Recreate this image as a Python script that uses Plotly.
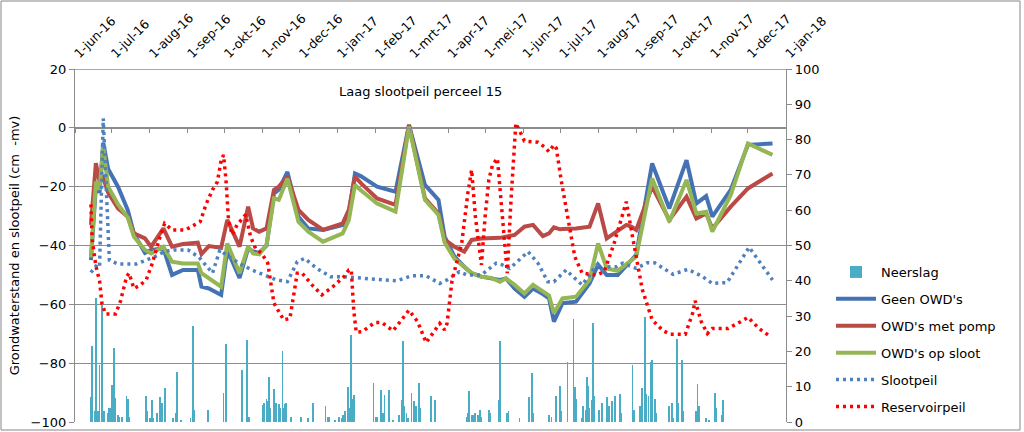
import plotly.graph_objects as go

# ---------------- data ----------------
month_ticks = ["2016-06-01", "2016-07-01", "2016-08-01", "2016-09-01", "2016-10-01", "2016-11-01",
               "2016-12-01", "2017-01-01", "2017-02-01", "2017-03-01", "2017-04-01", "2017-05-01",
               "2017-06-01", "2017-07-01", "2017-08-01", "2017-09-01", "2017-10-01", "2017-11-01",
               "2017-12-01", "2018-01-01"]
month_labels = ["1-jun-16", "1-jul-16", "1-aug-16", "1-sep-16", "1-okt-16", "1-nov-16", "1-dec-16",
                "1-jan-17", "1-feb-17", "1-mrt-17", "1-apr-17", "1-mei-17", "1-jun-17", "1-jul-17",
                "1-aug-17", "1-sep-17", "1-okt-17", "1-nov-17", "1-dec-17", "1-jan-18"]

meet_dates = ["2016-06-14", "2016-06-18", "2016-06-21", "2016-06-24", "2016-06-28", "2016-07-06",
              "2016-07-14", "2016-07-19", "2016-07-28", "2016-08-02", "2016-08-12", "2016-08-19",
              "2016-08-28", "2016-09-09", "2016-09-12", "2016-09-18", "2016-09-28", "2016-10-03",
              "2016-10-13", "2016-10-20", "2016-10-24", "2016-10-29", "2016-11-04", "2016-11-10",
              "2016-11-14", "2016-11-21", "2016-11-30", "2016-12-08", "2016-12-20", "2017-01-05",
              "2017-01-10", "2017-01-15", "2017-01-20", "2017-02-02", "2017-02-17", "2017-02-28",
              "2017-03-13", "2017-03-24", "2017-03-29", "2017-04-06", "2017-04-14", "2017-04-20",
              "2017-04-28", "2017-05-06", "2017-05-13", "2017-05-18", "2017-05-25", "2017-06-02",
              "2017-06-09", "2017-06-17", "2017-06-22", "2017-06-26", "2017-07-01", "2017-07-03",
              "2017-07-14", "2017-07-25", "2017-08-01", "2017-08-08", "2017-08-17", "2017-08-24",
              "2017-08-28", "2017-09-01", "2017-09-14", "2017-09-28", "2017-10-12", "2017-10-20",
              "2017-10-28", "2017-11-02", "2017-11-17", "2017-12-01", "2017-12-21"]

geen_owd = [-45, -20, -22, -5, -14, -20, -28, -36, -42.5, -41.5, -41, -50, -48.3, -48.3, -54, -54.6,
            -56.8, -41.5, -51, -41, -42, -42.5, -40, -22.3, -21, -15, -30.2, -34.2, -34.7, -33, -29,
            -15.5, -16.5, -20, -21.7, 1, -19.4, -24.5, -37, -43.8, -47.2, -49.4, -50.6, -51.2, -51.7,
            -51.2, -54.6, -57.4, -54.6, -56.5, -58, -65.9, -61, -59.6, -59.1, -52.9, -46.5, -50, -50,
            -47, -45, -43.2, -12.1, -27.4, -11, -25.7, -23.2, -30.2, -21.1, -5.8, -5.3]

owd_pomp = [-33, -12, -18.3, -17, -22, -27.4, -30.2, -35.9, -37.6, -40.4, -34.2, -40.4, -39.5, -39,
            -42.9, -40.2, -40.8, -31.3, -40.4, -26.8, -34.2, -35.3, -34.2, -21.1, -20, -16.6, -27.9,
            -31.3, -34.7, -32.5, -27.9, -16.6, -18.9, -24, -26.2, 1, -24, -29.1, -38, -40.4, -42.1,
            -38.1, -37.6, -37.6, -37.4, -37, -36.4, -33.6, -33, -36.8, -35.9, -33.8, -34.5, -34.4,
            -34.2, -33.6, -25.7, -37.6, -35, -33, -33.6, -34.7, -20, -31.3, -23.4, -30.8, -29.1,
            -34.2, -26.8, -20.6, -15.5]

owd_sloot = [-44, -18.3, -21, -6.4, -20, -26, -30.5, -37, -41.5, -42.7, -40.4, -45.5, -46.1, -46.1,
             -49.4, -51.2, -54, -39.3, -49.4, -40.4, -42.7, -43, -39.8, -24, -24.5, -17.2, -31.9,
             -35.3, -38.7, -35.9, -31.3, -19.4, -21.3, -25.7, -28.5, 0.4, -24.5, -29.6, -39, -44.5,
             -47.5, -49.4, -50.6, -51, -52.3, -51.2, -53.4, -56.3, -53.4, -55.5, -57, -63, -59.5, -58,
             -57.4, -51.7, -39.3, -47.8, -48.6, -46.5, -45, -43.8, -17.2, -31.9, -17.7, -29.1, -28.5,
             -35.3, -22.8, -5.3, -9.2]

sloot_dates = ["2016-06-14", "2016-06-18", "2016-06-21", "2016-06-24", "2016-06-29", "2016-07-06",
               "2016-07-21", "2016-08-05", "2016-08-13", "2016-08-21", "2016-09-01", "2016-09-10",
               "2016-09-21", "2016-09-27", "2016-10-03", "2016-10-15", "2016-10-23", "2016-10-29",
               "2016-11-12", "2016-11-21", "2016-11-29", "2016-12-05", "2016-12-15", "2016-12-26",
               "2017-01-06", "2017-02-07", "2017-02-18", "2017-03-02", "2017-03-14", "2017-03-25",
               "2017-03-31", "2017-04-10", "2017-04-16", "2017-04-28", "2017-05-10", "2017-05-15",
               "2017-05-21", "2017-06-05", "2017-06-13", "2017-06-21", "2017-06-26", "2017-07-06",
               "2017-07-10", "2017-07-19", "2017-07-31", "2017-08-05", "2017-08-10", "2017-08-16",
               "2017-08-21", "2017-09-01", "2017-09-10", "2017-09-16", "2017-10-01", "2017-10-13",
               "2017-10-24", "2017-11-02", "2017-11-14", "2017-12-02", "2017-12-21"]
slootpeil = [-49.2, -47, -47.5, 3.2, -45, -46.3, -46.3, -43.8, -42, -41.5, -41.5, -44, -49.4, -41.5,
             -43.5, -46.6, -48.3, -49.4, -51.7, -52.3, -45.5, -44.4, -47.8, -50.6, -50.6, -51.7, -52,
             -50.3, -50.3, -52.9, -51.7, -48.9, -50, -50, -46, -46.6, -47.8, -42.1, -46, -52.3, -52.3,
             -48.3, -50, -53.4, -46.6, -48.3, -47.2, -47.2, -46, -47.8, -45.9, -45.9, -49.8, -48.1,
             -50.3, -52.9, -52.6, -40.6, -51.7]

res_dates = ["2016-06-14", "2016-06-15", "2016-06-18", "2016-06-21", "2016-06-23", "2016-06-26",
             "2016-07-04", "2016-07-08", "2016-07-11", "2016-07-13", "2016-07-15", "2016-07-19",
             "2016-07-24", "2016-07-29", "2016-08-03", "2016-08-08", "2016-08-13", "2016-08-19",
             "2016-08-30", "2016-09-04", "2016-09-11", "2016-09-16", "2016-09-21", "2016-09-25",
             "2016-09-28", "2016-09-30", "2016-10-02", "2016-10-04", "2016-10-07", "2016-10-11",
             "2016-10-15", "2016-10-18", "2016-10-22", "2016-10-26", "2016-10-31", "2016-11-05",
             "2016-11-10", "2016-11-18", "2016-11-23", "2016-11-26", "2016-11-29", "2016-12-03",
             "2016-12-11", "2016-12-19", "2016-12-28", "2017-01-06", "2017-01-10", "2017-01-12",
             "2017-01-14", "2017-01-16", "2017-01-21", "2017-01-31", "2017-02-06", "2017-02-15",
             "2017-02-23", "2017-02-28", "2017-03-07", "2017-03-14", "2017-03-25", "2017-03-29",
             "2017-03-31", "2017-04-04", "2017-04-12", "2017-04-17", "2017-04-20", "2017-04-23",
             "2017-04-28", "2017-05-01", "2017-05-04", "2017-05-07", "2017-05-11", "2017-05-13",
             "2017-05-17", "2017-05-19", "2017-05-22", "2017-05-26", "2017-05-29", "2017-06-02",
             "2017-06-13", "2017-06-18", "2017-06-22", "2017-06-26", "2017-06-28", "2017-07-02",
             "2017-07-13", "2017-07-19", "2017-07-31", "2017-08-06", "2017-08-14", "2017-08-24",
             "2017-08-29", "2017-09-06", "2017-09-14", "2017-09-23", "2017-09-29", "2017-10-11",
             "2017-10-17", "2017-10-19", "2017-10-24", "2017-10-29", "2017-11-02", "2017-11-15",
             "2017-11-25", "2017-12-01", "2017-12-10", "2017-12-20"]
reservoirpeil = [-26, -38, -47, -52, -60, -63.3, -63.3, -59, -54, -50.6, -49.4, -54.6, -53.5, -51.7,
                 -46, -38.7, -32.5, -34.7, -34.7, -33.6, -31.9, -25.7, -21.1, -18.3, -11, -9.2, -18,
                 -31.3, -36.4, -33, -31, -29.5, -37, -41, -42.7, -46, -59.6, -65.3, -64.8, -56.8,
                 -49.4, -49.4, -53.4, -56.8, -54, -50.6, -48.3, -48.3, -62, -69.5, -69.3, -66.2,
                 -66.2, -69, -64.8, -62, -65.9, -73, -66.5, -68.7, -66.5, -52, -39, -22, -14.3, -30,
                 -46.6, -30, -17.7, -12.6, -10.4, -20, -39, -49.4, -25, 1.5, -1, -4.5, -4.9, -6.4,
                 -8.1, -5.8, -7, -18, -43.8, -49.4, -50, -48.9, -39.3, -25.1, -37, -55, -65.3, -69,
                 -70.2, -70.2, -63, -58.8, -65.9, -69.9, -68.2, -68.2, -65.9, -64.4, -68.2, -71.2]

neerslag_dates = ["2016-06-14", "2016-06-15", "2016-06-17", "2016-06-18", "2016-06-19", "2016-06-20",
                  "2016-06-21", "2016-06-23", "2016-06-24", "2016-06-25", "2016-06-28", "2016-06-29",
                  "2016-06-30", "2016-07-01", "2016-07-03", "2016-07-04", "2016-07-06", "2016-07-07",
                  "2016-07-09", "2016-07-13", "2016-07-14", "2016-07-15", "2016-07-29", "2016-07-30",
                  "2016-08-01", "2016-08-03", "2016-08-04", "2016-08-07", "2016-08-09", "2016-08-11",
                  "2016-08-13", "2016-08-20", "2016-08-22", "2016-08-23", "2016-08-26", "2016-09-03",
                  "2016-09-05", "2016-09-06", "2016-09-17", "2016-09-30", "2016-10-02", "2016-10-15",
                  "2016-10-19", "2016-10-20", "2016-10-21", "2016-11-01", "2016-11-02", "2016-11-04",
                  "2016-11-05", "2016-11-06", "2016-11-07", "2016-11-10", "2016-11-11", "2016-11-12",
                  "2016-11-14", "2016-11-15", "2016-11-17", "2016-11-18", "2016-11-19", "2016-11-20",
                  "2016-11-24", "2016-12-02", "2016-12-08", "2016-12-12", "2016-12-22", "2016-12-24",
                  "2016-12-25", "2016-12-30", "2017-01-02", "2017-01-04", "2017-01-05", "2017-01-07",
                  "2017-01-09", "2017-01-10", "2017-01-12", "2017-01-13", "2017-01-14", "2017-01-30",
                  "2017-02-01", "2017-02-02", "2017-02-05", "2017-02-07", "2017-02-08", "2017-02-12",
                  "2017-02-15", "2017-02-20", "2017-02-22", "2017-02-23", "2017-02-24", "2017-02-26",
                  "2017-02-27", "2017-03-02", "2017-03-04", "2017-03-06", "2017-03-08", "2017-03-09",
                  "2017-03-18", "2017-03-21", "2017-04-16", "2017-04-17", "2017-04-18", "2017-04-20",
                  "2017-04-22", "2017-04-23", "2017-04-25", "2017-04-27", "2017-04-28", "2017-05-04",
                  "2017-05-05", "2017-05-12", "2017-05-13", "2017-05-19", "2017-05-20", "2017-05-29",
                  "2017-06-06", "2017-06-08", "2017-06-09", "2017-06-22", "2017-06-24", "2017-06-28",
                  "2017-07-01", "2017-07-02", "2017-07-07", "2017-07-12", "2017-07-13", "2017-07-14",
                  "2017-07-19", "2017-07-20", "2017-07-22", "2017-07-23", "2017-07-24", "2017-07-25",
                  "2017-07-27", "2017-07-28", "2017-07-29", "2017-08-02", "2017-08-04", "2017-08-08",
                  "2017-08-10", "2017-08-12", "2017-08-15", "2017-08-19", "2017-08-20", "2017-08-29",
                  "2017-08-30", "2017-09-04", "2017-09-06", "2017-09-08", "2017-09-09", "2017-09-11",
                  "2017-09-13", "2017-09-14", "2017-09-16", "2017-09-17", "2017-09-28", "2017-09-30",
                  "2017-10-01", "2017-10-04", "2017-10-05", "2017-10-08", "2017-10-09", "2017-10-20",
                  "2017-10-21", "2017-10-22", "2017-10-28", "2017-10-30", "2017-11-04", "2017-11-05",
                  "2017-11-10", "2017-11-11"]
neerslag = [7.2, 21.5, 3, 35, 2.5, 3, 16.1, 33.1, 3, 3, 2.5, 4, 4, 10.5, 20.9, 6.7, 2, 1.5, 1.5, 7.4,
            6.5, 1.5, 7.4, 3, 1, 6.2, 1, 2.5, 7, 5.5, 9.5, 1, 2.5, 14.3, 0.5, 1, 27.2, 3.5, 3.5, 8.3,
            22.1, 14.7, 23.2, 1.5, 1.5, 4.8, 5.5, 6.5, 6, 12.8, 4, 9.3, 4.5, 5.5, 5, 4, 20.1, 4, 5,
            5.5, 1.5, 1.5, 1, 5.3, 4.5, 1.5, 1.3, 0.5, 1.5, 1.2, 2, 3, 10, 4, 24.6, 6.5, 7.6, 11.1,
            1.5, 1.5, 9, 2.5, 7.6, 9, 0.5, 2, 6.2, 22.9, 4.5, 2.5, 1, 8.3, 6, 4.5, 11.1, 4, 7.4, 6.2,
            1.5, 2.5, 8.8, 2, 2, 2.5, 2, 3.5, 1.5, 3.5, 2.5, 6.2, 23, 2.5, 3, 1, 7.2, 13.8, 2.5, 2,
            1.5, 7.4, 10.2, 3, 16.9, 29.1, 10, 6.5, 1, 4.5, 3.5, 12.8, 10.2, 4, 6.2, 28, 7.5, 3.5,
            5.5, 7, 4.5, 6, 7.5, 7.9, 2.5, 16.1, 3.5, 4.5, 9.5, 29.8, 8, 7.5, 17.1, 17.6, 6.5, 2.5,
            4.5, 5.5, 1, 23.4, 5.5, 17.6, 3, 3, 10.8, 4.5, 1, 0.5, 8.1, 4, 2, 6.2]

# ---------------- styling ----------------
FONT = "DejaVu Sans"
GRID = "#8c8c8c"
C_BAR = "#4BACC6"
C_GEEN = "#4472B4"
C_POMP = "#BA4A46"
C_SLOOT = "#95B654"
C_SLOOTPEIL = "#4F81BD"
C_RES = "#FF0000"

x_range = ["2016-06-01", "2018-01-01"]

fig = go.Figure()

fig.add_trace(go.Bar(
    x=neerslag_dates, y=neerslag, name="Neerslag", xaxis="x", yaxis="y",
    marker=dict(color=C_BAR, line=dict(width=0)), width=86400000 * 0.65,
    legendgroup="a"))

fig.add_trace(go.Scatter(x=meet_dates, y=geen_owd, name="Geen OWD's", mode="lines",
                         line=dict(color=C_GEEN, width=4), xaxis="x2", yaxis="y2", legendgroup="b"))
fig.add_trace(go.Scatter(x=meet_dates, y=owd_pomp, name="OWD's met pomp", mode="lines",
                         line=dict(color=C_POMP, width=4), xaxis="x2", yaxis="y2", legendgroup="c"))
fig.add_trace(go.Scatter(x=meet_dates, y=owd_sloot, name="OWD's op sloot", mode="lines",
                         line=dict(color=C_SLOOT, width=4), xaxis="x2", yaxis="y2", legendgroup="d"))
fig.add_trace(go.Scatter(x=sloot_dates, y=slootpeil, name="Slootpeil", mode="lines",
                         line=dict(color=C_SLOOTPEIL, width=3.5, dash="3px,4px"), xaxis="x2",
                         yaxis="y2", legendgroup="e"))
fig.add_trace(go.Scatter(x=res_dates, y=reservoirpeil, name="Reservoirpeil", mode="lines",
                         line=dict(color=C_RES, width=3.5, dash="3px,4px"), xaxis="x2", yaxis="y2",
                         legendgroup="f"))

fig.update_layout(
    width=1024, height=432,
    margin=dict(l=75, r=238, t=69, b=10, autoexpand=False),
    paper_bgcolor="white", plot_bgcolor="white",
    font=dict(family=FONT, size=13, color="black"),
    showlegend=True,
    bargap=0,
    xaxis=dict(
        type="date", range=x_range, anchor="free", position=100 / 120, side="bottom",
        tickvals=month_ticks, showticklabels=False, ticks="outside", ticklen=4,
        tickcolor=GRID, tickwidth=1.3, showline=True, linecolor=GRID, linewidth=1.3,
        showgrid=False, zeroline=False, automargin=False,
    ),
    xaxis2=dict(
        type="date", range=x_range, overlaying="x", anchor="y2", side="top",
        tickvals=month_ticks, ticktext=month_labels, tickangle=-45, ticks="",
        tickfont=dict(size=12.5), showline=False, showgrid=False, zeroline=False,
        ticklabelstandoff=5, automargin=False,
    ),
    yaxis=dict(
        range=[0, 100], dtick=10, side="right", anchor="x", showgrid=False, zeroline=False,
        showline=True, linecolor=GRID, linewidth=1.3, ticks="outside", ticklen=5,
        tickcolor=GRID, tickwidth=1.3, tickfont=dict(size=13), automargin=False,
    ),
    yaxis2=dict(
        range=[-100, 20], dtick=20, side="left", overlaying="y", anchor="x",
        showgrid=True, gridcolor=GRID, gridwidth=1.3, zeroline=False,
        showline=True, linecolor=GRID, linewidth=1.3, ticks="outside", ticklen=5,
        tickcolor=GRID, tickwidth=1.3, tickfont=dict(size=13), automargin=False,
        title=dict(text="Grondwaterstand en slootpeil (cm  -mv)", font=dict(size=13), standoff=7),
    ),
    legend=dict(
        x=(831 - 75) / 711, xanchor="left", y=(422 - 257) / 353, yanchor="top",
        font=dict(size=13), bgcolor="rgba(0,0,0,0)", borderwidth=0,
        tracegroupgap=7, itemwidth=40, traceorder="grouped",
    ),
    annotations=[dict(
        text="Laag slootpeil perceel 15", xref="paper", yref="paper",
        x=(420 - 75) / 711, y=(422 - 91) / 353, xanchor="center", yanchor="middle",
        showarrow=False, font=dict(size=13),
    )],
    shapes=[
        dict(type="rect", xref="paper", yref="paper",
             x0=(1 - 75) / 711, x1=(1020 - 75) / 711, y0=(422 - 430) / 353, y1=(422 - 1) / 353,
             line=dict(color="#868686", width=1), fillcolor="rgba(0,0,0,0)", layer="below"),
        dict(type="line", xref="paper", yref="y2", x0=0, x1=1, y0=20, y1=20,
             line=dict(color=GRID, width=1.3), layer="below"),
    ],
)

# remove the browser's default 8px page margin so the figure sits at the window origin
fig.write_html("out.html", config={"displayModeBar": False},
               post_script="document.body.style.margin='0px';document.body.style.overflow='hidden';")
